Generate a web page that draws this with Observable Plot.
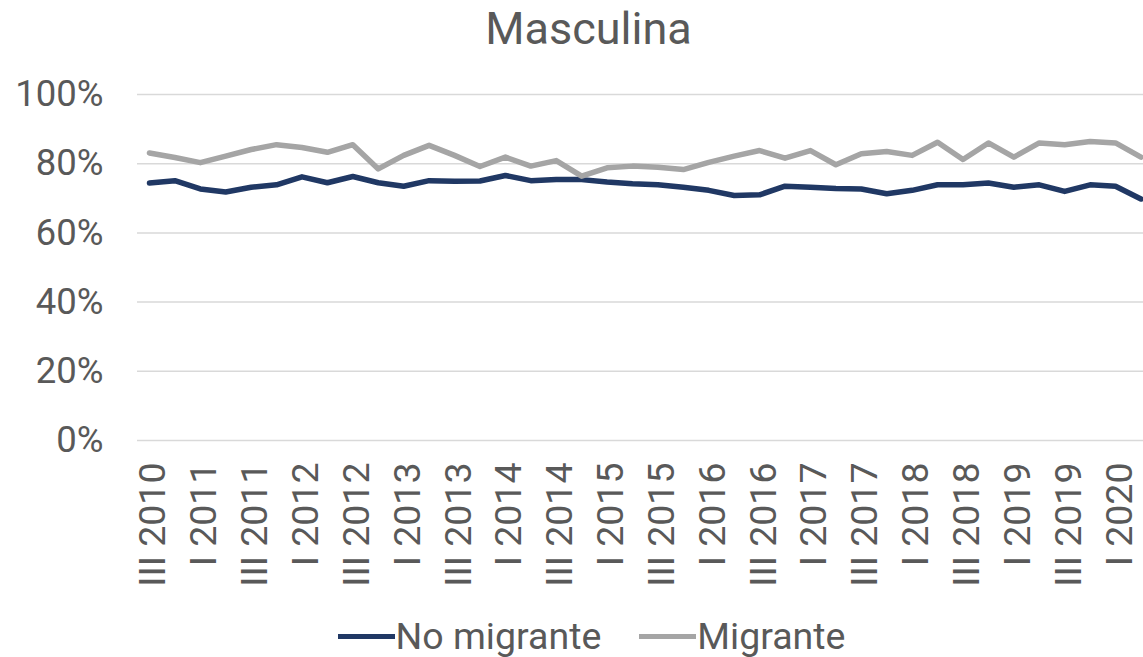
<!DOCTYPE html>
<html>
<head>
<meta charset="utf-8">
<script src="https://cdn.jsdelivr.net/npm/d3@7"></script>
<script src="https://cdn.jsdelivr.net/npm/@observablehq/plot@0.6"></script>
<style>
  html, body { margin: 0; padding: 0; background: #fff; overflow: hidden; }
  body { width: 1143px; height: 657px; position: relative; font-family: Roboto, "Noto Sans", sans-serif; color: #595959; }
  #title { position: absolute; left: 34px; right: 0; top: 0; height: 58px; line-height: 58px; text-align: center; font-size: 45px; }
  #chart { position: absolute; left: 0; top: 0; }
  #legend { position: absolute; left: 40px; right: 0; top: 608px; height: 50px; line-height: 50px; text-align: center; font-size: 37.5px; white-space: nowrap; }
  .item { display: inline-flex; align-items: center; vertical-align: middle; }
  .sw { display: inline-block; width: 57px; height: 5px; margin-right: 1px; }
</style>
</head>
<body>
<div id="title">Masculina</div>
<div id="chart"></div>
<div id="legend"></div>
<script>
const quarters = [
  "III 2010","IV 2010",
  "I 2011","II 2011","III 2011","IV 2011",
  "I 2012","II 2012","III 2012","IV 2012",
  "I 2013","II 2013","III 2013","IV 2013",
  "I 2014","II 2014","III 2014","IV 2014",
  "I 2015","II 2015","III 2015","IV 2015",
  "I 2016","II 2016","III 2016","IV 2016",
  "I 2017","II 2017","III 2017","IV 2017",
  "I 2018","II 2018","III 2018","IV 2018",
  "I 2019","II 2019","III 2019","IV 2019",
  "I 2020","II 2020"
];
const noMigrante = [
  74.4, 75.1, 72.7, 71.8, 73.2, 73.9, 76.2, 74.5, 76.3, 74.5,
  73.5, 75.1, 74.9, 75.0, 76.6, 75.1, 75.4, 75.4, 74.7, 74.2,
  73.9, 73.2, 72.3, 70.8, 71.0, 73.5, 73.2, 72.8, 72.7, 71.3,
  72.3, 73.9, 73.9, 74.4, 73.2, 73.9, 72.0, 73.9, 73.5, 69.8
];
const migrante = [
  83.1, 81.8, 80.3, 82.2, 84.1, 85.5, 84.7, 83.3, 85.5, 78.5,
  82.4, 85.3, 82.4, 79.2, 81.9, 79.3, 80.9, 76.4, 78.8, 79.3,
  79.0, 78.3, 80.4, 82.2, 83.8, 81.6, 83.8, 79.7, 82.9, 83.5,
  82.4, 86.2, 81.2, 86.0, 81.9, 86.0, 85.5, 86.4, 86.0, 81.9
];
const yTicks = [0, 20, 40, 60, 80, 100];
const series = [
  {name: "No migrante", values: noMigrante, color: "#203864"},
  {name: "Migrante", values: migrante, color: "#A5A5A5"}
];
const xTickIdx = quarters.map((d, i) => i).filter(i => i % 2 === 0);

const rows = series.flatMap(s => s.values.map((v, i) => ({i, q: quarters[i], v, s: s.name})));

const chart = Plot.plot({
  width: 1143,
  height: 600,
  marginTop: 94,
  marginBottom: 160,
  marginLeft: 137,
  marginRight: 0,
  style: {fontFamily: "Roboto, sans-serif", fontSize: "37.5px", color: "#595959", overflow: "visible"},
  x: {type: "linear", domain: [-0.47, quarters.length - 0.9], label: null},
  y: {domain: [0, 100], label: null},
  color: {domain: series.map(s => s.name), range: series.map(s => s.color)},
  marks: [
    Plot.ruleY(yTicks, {stroke: "#D9D9D9", strokeWidth: 1.5}),
    Plot.axisY({ticks: yTicks, tickSize: 0, tickPadding: 34, tickFormat: d => d + "%", fill: "#595959", fontSize: 36.5, label: null}),
    Plot.axisX({ticks: xTickIdx, tickSize: 0, tickPadding: 22, tickRotate: -90, dx: 4, tickFormat: i => quarters[i], fill: "#595959", fontSize: 37.5, label: null}),
    Plot.lineY(rows, {x: "i", y: "v", z: "s", stroke: "s", strokeWidth: 5.5, strokeLinejoin: "round", strokeLinecap: "round", clip: false})
  ]
});
document.getElementById("chart").appendChild(chart);

const legend = document.getElementById("legend");
series.forEach((s, i) => {
  const item = document.createElement("span");
  item.className = "item";
  if (i > 0) item.style.marginLeft = "38px";
  const sw = document.createElement("span");
  sw.className = "sw";
  sw.style.background = s.color;
  const t = document.createElement("span");
  t.textContent = s.name;
  item.appendChild(sw);
  item.appendChild(t);
  legend.appendChild(item);
});
</script>
</body>
</html>
